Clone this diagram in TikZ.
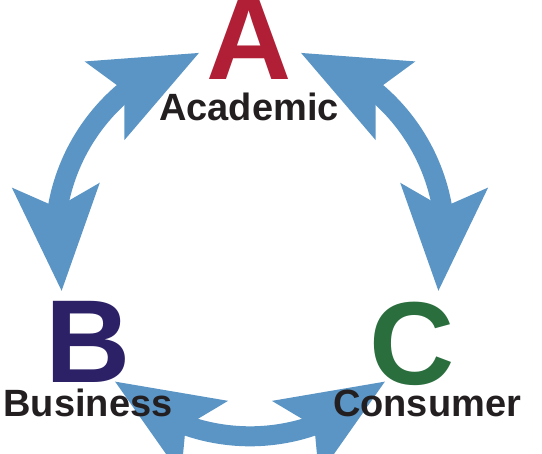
\documentclass[tikz,border=0pt]{standalone}
\usepackage{fontspec}
\setmainfont{Liberation Sans}
\usetikzlibrary{arrows.meta,bending,positioning}
\definecolor{flowblue}{RGB}{91,149,197}
\definecolor{acadred}{RGB}{176,31,53}
\definecolor{busnavy}{RGB}{44,33,103}
\definecolor{consgreen}{RGB}{43,110,62}
\definecolor{inkdark}{RGB}{35,31,32}

\begin{document}
\begin{tikzpicture}[
                x=1pt, y=1pt,
                head/.tip={Stealth[length=104pt, width=84pt, inset=20pt, flex]},
                flow/.style={draw=flowblue, line width=20pt, head-head},
                letter/.style={anchor=base, inner sep=0pt, font=\bfseries\fontsize{118}{118}\selectfont},
                word/.style={anchor=base, inner sep=0pt, text=inkdark, font=\bfseries\fontsize{38}{38}\selectfont}
            ]

            \clip (0,0) rectangle (542,454);

            % ends of the three arcs
            \coordinate (o) at (250,213);
            \path (o) ++(105:195pt) coordinate (ab);
            \path (o) ++(195:195pt) coordinate (ba);
            \path (o) ++(226:195pt) coordinate (bc);
            \path (o) ++(314:195pt) coordinate (cb);
            \path (o) ++(345:195pt) coordinate (ca);
            \path (o) ++(75:195pt) coordinate (ac);

            \draw[flow] (ab) to[bend right=45] (ba);
            \draw[flow] (bc) to[bend right=44] (cb);
            \draw[flow] (ca) to[bend right=45] (ac);

            \node[letter, text=acadred] (A) at (249,374) {A};
            \node[letter, text=busnavy] (B) at (88,71) {B};
            \node[letter, text=consgreen] (C) at (412,69) {C};

            \node[word, below=41pt of A.base, anchor=base] (acad) {Academic};
            \node[word, below=34pt of B.base, anchor=base] (bus) {Business};
            \node[word, below right=32pt and 15pt of C.base, anchor=base] (cons) {Consumer};

        \end{tikzpicture}
\end{document}
